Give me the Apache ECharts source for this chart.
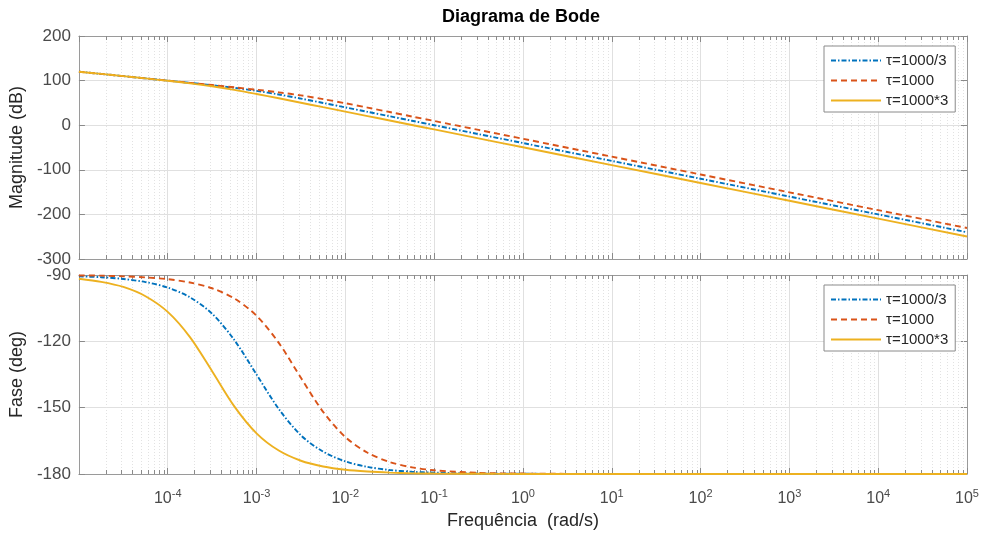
<!DOCTYPE html>
<html><head><meta charset="utf-8">
<script src="https://cdn.jsdelivr.net/npm/echarts@6/dist/echarts.min.js"></script>
<style>html,body{margin:0;padding:0;background:#fff}#c{width:984px;height:536px}</style>
</head><body><div id="c"></div>
<script>
const freq = [1e-5, 1.78e-5, 3.16e-5, 5.62e-5, 1e-4, 1.78e-4, 3.16e-4, 5.62e-4, 1e-3, 1.78e-3, 3.16e-3, 5.62e-3,
              1e-2, 1.78e-2, 3.16e-2, 5.62e-2, 0.1, 0.316, 1, 10, 100, 1e3, 1e4, 1e5];
const names = ['τ=1000/3', 'τ=1000', 'τ=1000*3'];

// Magnitude (dB)
const magA = [120.0, 115.0, 110.0, 105.0, 100.0, 94.9, 89.6, 83.8, 77.0, 68.8, 59.6, 49.9,
              40.0, 30.0, 20.0, 10.0, 0.0, -20.0, -40.0, -80.0, -120.0, -160.0, -200.0, -240.0];
const magB = [120.0, 115.0, 110.0, 105.0, 100.0, 95.0, 90.0, 84.9, 79.5, 73.7, 66.8, 58.5,
              49.2, 39.4, 29.5, 19.5, 9.5, -10.5, -30.5, -70.5, -110.5, -150.5, -190.5, -230.5];
const magC = [120.0, 115.0, 110.0, 104.9, 99.6, 93.9, 87.2, 79.2, 70.0, 60.3, 50.4, 40.4,
              30.5, 20.5, 10.5, 0.5, -9.5, -29.5, -49.5, -89.5, -129.5, -169.5, -209.5, -249.5];

// Phase (deg)
const phA = [-90.6, -91.0, -91.8, -93.2, -95.7, -100.1, -107.5, -119.4, -135.0, -150.6, -162.5, -169.9,
             -174.3, -176.8, -178.2, -179.0, -179.4, -179.8, -179.9, -180, -180, -180, -180, -180];
const phB = [-90.2, -90.3, -90.6, -91.1, -91.9, -93.4, -96.0, -100.6, -108.4, -120.7, -136.5, -151.9,
             -163.3, -170.4, -174.6, -177.0, -178.3, -179.5, -179.8, -180, -180, -180, -180, -180];
const phC = [-91.7, -93.1, -95.4, -99.6, -106.7, -118.1, -133.5, -149.4, -161.6, -169.4, -174.0, -176.6,
             -178.1, -178.9, -179.4, -179.7, -179.8, -179.9, -180.0, -180, -180, -180, -180, -180];

const magRange = [-300, 200, 100];
const phRange = [-180, -90, 30];

const FONT = '"Liberation Sans", Arial, Helvetica, sans-serif';
const colors = ['#0072BD', '#D95319', '#EDB120'];
const dashes = [[5, 2, 1.5, 2], [6, 4], 'solid'];
const AX = '#9a9a9a';
const TXT = '#4a4a4a';

function zip(y) { return freq.map((f, i) => [f, y[i]]); }

// minor log positions 2..9 x 10^k
const minorTop = [], minorBot = [];
for (let k = -5; k < 5; k++) for (let m = 2; m <= 9; m++) {
  minorTop.push([m * Math.pow(10, k), 0]);
  minorBot.push([m * Math.pow(10, k), -120]);
}
function minorRender(params, api) {
  const cs = params.coordSys;
  const x = Math.round(api.coord([api.value(0), api.value(1)])[0]) + 0.5;
  return {
    type: 'group', children: [
      { type: 'line', shape: { x1: x, y1: cs.y, x2: x, y2: cs.y + cs.height }, style: { stroke: '#e2e2e2', lineWidth: 1, lineDash: [1, 2] } },
      { type: 'line', shape: { x1: x, y1: cs.y, x2: x, y2: cs.y + 4 }, style: { stroke: '#8a8a8a', lineWidth: 1 } },
      { type: 'line', shape: { x1: x, y1: cs.y + cs.height - 4, x2: x, y2: cs.y + cs.height }, style: { stroke: '#8a8a8a', lineWidth: 1 } }
    ]
  };
}

function xAx(grid, pos, labels, split) {
  return {
    type: 'log', logBase: 10, gridIndex: grid, position: pos, min: 1e-5, max: 1e5, interval: 1,
    axisLine: { show: true, onZero: false, lineStyle: { color: AX, width: 1 } },
    axisTick: { show: true, inside: true, length: 6, lineStyle: { color: '#8a8a8a' } },
    splitLine: { show: split, lineStyle: { color: '#e0e0e0', width: 1 } },
    axisLabel: labels ? {
      show: true, margin: 14, showMinLabel: false, showMaxLabel: true,
      formatter: v => '{b|10}{s|' + Math.round(Math.log10(v)) + '}',
      rich: {
        b: { fontSize: 16, color: TXT, fontFamily: FONT },
        s: { fontSize: 11, color: TXT, fontFamily: FONT, verticalAlign: 'top', padding: [0, 0, 10, 0] }
      }
    } : { show: false },
    name: labels ? 'Frequência  (rad/s)' : '', nameLocation: 'middle', nameGap: 38,
    nameTextStyle: { fontSize: 18, color: '#262626', fontFamily: FONT }
  };
}
function yAx(grid, pos, r, labels, name) {
  return {
    type: 'value', gridIndex: grid, position: pos, min: r[0], max: r[1], interval: r[2],
    axisLine: { show: true, lineStyle: { color: AX, width: 1 } },
    axisTick: { show: true, inside: true, length: 6, lineStyle: { color: '#8a8a8a' } },
    splitLine: { show: labels, lineStyle: { color: '#e0e0e0', width: 1 } },
    axisLabel: { show: labels, margin: 8, fontSize: 17, color: TXT, fontFamily: FONT },
    name: name || '', nameLocation: 'middle', nameGap: 44, nameRotate: 90,
    nameTextStyle: { fontSize: 18, color: '#262626', fontFamily: FONT }
  };
}

const series = [
  { type: 'custom', xAxisIndex: 0, yAxisIndex: 0, renderItem: minorRender, data: minorTop, silent: true, z: 1 },
  { type: 'custom', xAxisIndex: 2, yAxisIndex: 2, renderItem: minorRender, data: minorBot, silent: true, z: 1 }
];
const mags = [magA, magB, magC], phs = [phA, phB, phC];
for (let i = 0; i < 3; i++) {
  series.push({ type: 'line', name: names[i], xAxisIndex: 0, yAxisIndex: 0, data: zip(mags[i]), symbol: 'none', smooth: 0.3,
    lineStyle: { color: colors[i], width: 1.9, type: dashes[i] }, itemStyle: { color: colors[i] }, z: 3 + i });
}
for (let i = 0; i < 3; i++) {
  series.push({ type: 'line', name: names[i], xAxisIndex: 2, yAxisIndex: 2, data: zip(phs[i]), symbol: 'none', smooth: 0.3,
    lineStyle: { color: colors[i], width: 1.9, type: dashes[i] }, itemStyle: { color: colors[i] }, z: 3 + i });
}

function legendAt(top) {
  return {
    data: names, orient: 'vertical', left: 824, top: top, itemWidth: 50, itemHeight: 14, itemGap: 5,
    padding: [7, 7, 4, 6], backgroundColor: '#fff', borderColor: '#8a8a8a', borderWidth: 1,
    itemStyle: { opacity: 0 },
    textStyle: { fontSize: 15, color: '#262626', fontFamily: FONT, lineHeight: 14 },
    selectedMode: false
  };
}

const chart = echarts.init(document.getElementById('c'), null, { renderer: 'canvas' });
chart.setOption({
  backgroundColor: '#fff',
  animation: false,
  title: { text: 'Diagrama de Bode', left: 521, textAlign: 'center', top: 8, padding: 0,
    textStyle: { fontSize: 18, fontWeight: 'bold', color: '#000', fontFamily: FONT } },
  legend: [legendAt(46), legendAt(285)],
  grid: [
    { left: 76, top: 36, width: 891, height: 223, show: false },
    { left: 76, top: 275, width: 891, height: 199, show: false }
  ],
  xAxis: [xAx(0, 'bottom', false, true), xAx(0, 'top', false, false), xAx(1, 'bottom', true, true), xAx(1, 'top', false, false)],
  yAxis: [yAx(0, 'left', magRange, true, 'Magnitude (dB)'), yAx(0, 'right', magRange, false),
          yAx(1, 'left', phRange, true, 'Fase (deg)'), yAx(1, 'right', phRange, false)],
  series: series
});
</script></body></html>
